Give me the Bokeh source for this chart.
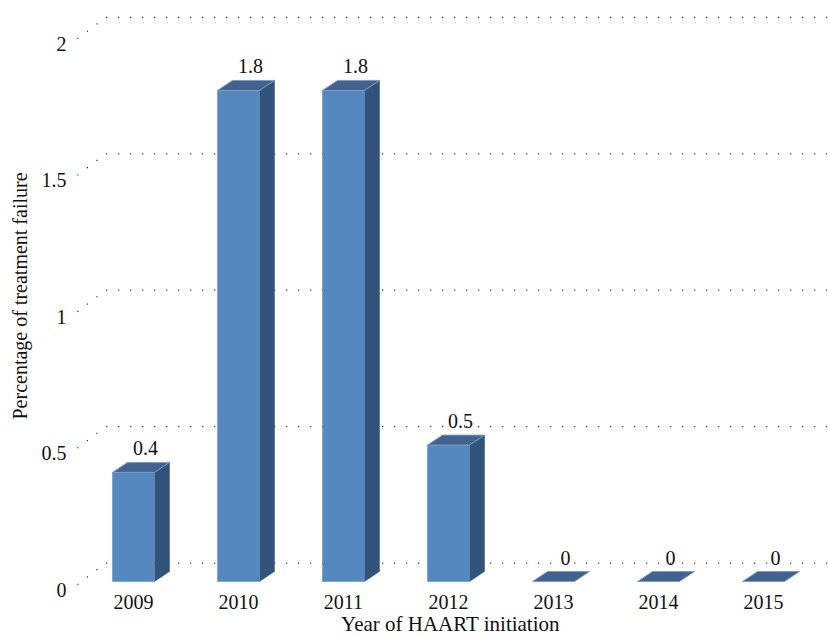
from bokeh.plotting import figure
from bokeh.models import Range1d, LinearAxis, FixedTicker, ColumnDataSource
from bokeh.embed import file_html
from bokeh.resources import INLINE
from bokeh.core.properties import value

# ---- data ----
years = ["2009", "2010", "2011", "2012", "2013", "2014", "2015"]
failure_pct = [0.4, 1.8, 1.8, 0.5, 0, 0, 0]
y_ticks = [0, 0.5, 1, 1.5, 2]
y_tick_labels = ["0", "0.5", "1", "1.5", "2"]

# ---- layout constants (pixels -> data units) ----
W, H = 828, 638
PX_X = 105.0      # px per category
PX_Y = 273.3      # px per percent unit
FRAME_LEFT = 72
FRAME_H = 592
BASE_PX = 582     # pixel row of value 0 (from top of figure)
CENTER0 = 133     # pixel column of first category
FONT = "Liberation Serif"
FS = "20px"
FS_TITLE = "21px"

y0 = -(FRAME_H - BASE_PX) / PX_Y
y1 = BASE_PX / PX_Y
x0 = -(CENTER0 - FRAME_LEFT) / PX_X
x1 = x0 + (W - FRAME_LEFT) / PX_X

bar_w = 42 / PX_X
dep_x = 15 / PX_X
dep_y = 10 / PX_Y
back_dy = 18.5 / PX_Y
front_dy = 3 / PX_Y
front_x = -56 / PX_X
back_x = -28 / PX_X
lab_off = 8 / PX_Y

p = figure(width=W, height=H, output_backend="svg", toolbar_location=None,
           x_range=Range1d(x0, x1), y_range=Range1d(y0, y1),
           y_axis_location=None, min_border_left=FRAME_LEFT,
           min_border_right=0, min_border_top=0, min_border_bottom=H - FRAME_H)
p.outline_line_color = None
p.grid.visible = False
p.background_fill_color = "white"

# ---- gridlines (back wall + diagonal to front) ----
gx, gy = [], []
for t in y_ticks:
    gx.append([front_x, back_x, x1 + 1])
    gy.append([t - front_dy, t + back_dy, t + back_dy])
p.multi_line(gx, gy, line_color="#000000", line_width=1.2, line_dash="1 11")

# ---- 3D bars ----
xs = list(range(len(years)))
front = dict(left=[], right=[], top=[], bottom=[])
side_x, side_y, top_x, top_y = [], [], [], []
for i, v in zip(xs, failure_pct):
    l, r = i - bar_w / 2, i + bar_w / 2
    if v > 0:
        front["left"].append(l); front["right"].append(r)
        front["top"].append(v); front["bottom"].append(0)
        side_x.append([r, r + dep_x, r + dep_x, r])
        side_y.append([0, dep_y, v + dep_y, v])
    top_x.append([l, r, r + dep_x, l + dep_x])
    top_y.append([v, v, v + dep_y, v + dep_y])

p.patches(side_x, side_y, fill_color="#32537A", line_color="#32537A", line_width=0.5)
p.quad(source=ColumnDataSource(front), left="left", right="right", top="top",
       bottom="bottom", fill_color="#5688C0", line_color="#5688C0", line_width=0.5)
p.patches(top_x, top_y, fill_color="#42628F", line_color="#7E9CC6", line_width=1)

# ---- value labels ----
lbl = ColumnDataSource(dict(x=[i + 0.115 for i in xs], y=failure_pct,
                            t=[f"{v:g}" for v in failure_pct]))
p.text(x="x", y="y", text="t", source=lbl, text_align="center",
       text_baseline="middle", y_offset=-24, text_font=value(FONT),
       text_font_size=FS, text_color="#111111")

# ---- x axis ----
xa = p.xaxis[0]
xa.ticker = FixedTicker(ticks=xs)
xa.major_label_overrides = {i: y for i, y in zip(xs, years)}
xa.axis_line_color = None
xa.major_tick_line_color = None
xa.minor_tick_line_color = None
xa.major_tick_out = 0
xa.major_label_standoff = 3
xa.major_label_text_font = FONT
xa.major_label_text_font_size = FS
xa.major_label_text_color = "#111111"
xa.axis_label = "Year of HAART initiation"
xa.axis_label_text_font = FONT
xa.axis_label_text_font_size = FS_TITLE
xa.axis_label_text_font_style = "normal"
xa.axis_label_text_color = "#111111"
xa.axis_label_standoff = 0

# ---- y axis (labels sit slightly below their gridline) ----
p.extra_y_ranges = {"lab": Range1d(y0 + lab_off, y1 + lab_off)}
ya = LinearAxis(y_range_name="lab", ticker=FixedTicker(ticks=y_ticks))
ya.major_label_overrides = {t: s for t, s in zip(y_ticks, y_tick_labels)}
ya.axis_line_color = None
ya.major_tick_line_color = None
ya.minor_tick_line_color = None
ya.major_tick_out = 0
ya.major_label_standoff = 6
ya.major_label_text_font = FONT
ya.major_label_text_font_size = FS
ya.major_label_text_color = "#111111"
ya.axis_label = "Percentage of treatment failure"
ya.axis_label_text_font = FONT
ya.axis_label_text_font_size = FS
ya.axis_label_text_font_style = "normal"
ya.axis_label_text_color = "#111111"
ya.axis_label_standoff = 8
p.add_layout(ya, "left")

open("out.html", "w").write(file_html(p, INLINE))
